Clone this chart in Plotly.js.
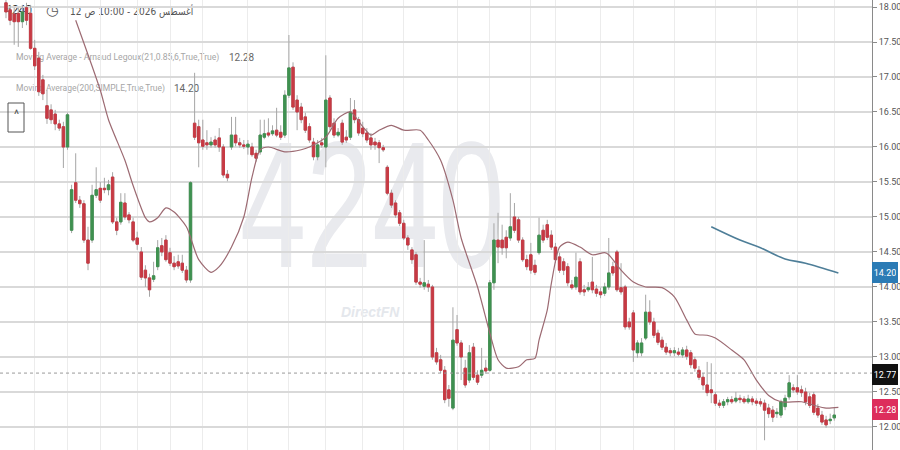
<!DOCTYPE html>
<html><head><meta charset="utf-8">
<script src="https://cdn.plot.ly/plotly-3.0.1.min.js"></script>
<style>html,body{margin:0;padding:0;background:#fff}#chart{width:900px;height:450px}</style>
</head><body><div id="chart"></div><script>
// ---- data ----
const openP = [18.06,17.96,17.90,17.91,17.79,17.99,17.91,17.41,17.27,16.96,16.59,16.53,16.47,16.33,16.29,16.00,14.81,15.49,15.24,15.19,14.67,14.67,15.31,15.41,15.41,15.39,15.57,14.93,14.93,15.20,15.03,14.93,14.70,14.50,14.24,14.13,14.11,14.29,14.59,14.67,14.49,14.34,14.36,14.34,14.24,14.10,16.34,16.29,16.10,16.06,16.03,16.10,16.13,16.00,15.61,16.00,16.17,16.06,16.03,16.00,16.00,15.91,15.93,16.14,16.20,16.19,16.24,16.21,16.17,16.74,17.14,16.67,16.57,16.43,16.29,16.07,15.86,16.06,16.00,16.70,16.34,16.17,16.34,16.14,16.14,16.53,16.39,16.27,16.20,16.13,16.07,16.06,15.99,15.71,15.34,15.20,15.06,14.91,14.70,14.53,14.46,14.07,14.01,14.04,14.00,13.06,12.96,12.81,12.53,12.27,13.39,13.20,12.84,12.67,13.14,12.74,12.74,12.84,12.81,14.06,14.67,14.67,14.71,14.70,15.00,14.96,14.67,14.39,14.46,14.31,14.49,14.81,14.89,14.74,14.57,14.43,14.36,14.29,14.03,14.00,14.36,13.96,13.96,14.07,13.97,13.93,13.91,14.00,14.29,14.50,13.99,14.00,13.50,13.63,13.06,13.06,13.27,13.64,13.50,13.34,13.24,13.14,13.09,13.06,13.07,13.03,13.10,13.06,12.96,12.81,12.71,12.60,12.53,12.46,12.34,12.31,12.36,12.39,12.37,12.41,12.40,12.36,12.40,12.37,12.36,12.34,12.27,12.24,12.19,12.17,12.29,12.43,12.56,12.56,12.53,12.50,12.43,12.46,12.27,12.17,12.10,12.09,12.13];
const highP = [18.10,18.03,17.99,17.99,18.03,18.06,18.03,17.53,17.36,17.03,16.81,16.61,16.53,16.39,16.36,16.49,15.46,15.91,15.30,15.24,14.86,15.46,15.71,15.50,15.56,15.53,15.64,14.99,15.34,15.34,15.07,14.99,14.79,14.57,14.31,14.19,14.36,14.67,14.70,14.74,14.56,14.44,14.46,14.46,14.30,15.51,17.06,16.39,16.39,16.24,16.14,16.16,16.27,16.04,15.67,16.43,16.43,16.13,16.10,16.10,16.06,15.96,16.39,16.39,16.41,16.31,16.56,16.31,16.81,17.60,17.21,16.74,16.63,16.49,16.34,16.13,16.10,16.13,17.31,16.74,16.41,16.27,16.39,16.24,16.70,16.67,16.43,16.36,16.27,16.20,16.13,16.10,16.03,15.74,15.39,15.24,15.10,14.96,14.74,14.57,14.50,14.13,14.67,14.10,14.03,13.13,13.03,12.87,12.60,13.71,13.60,13.24,12.96,13.17,13.20,12.81,13.13,12.96,14.10,14.91,15.06,14.89,14.81,15.34,15.20,15.00,14.71,14.46,14.63,14.39,14.99,14.89,14.96,14.81,14.63,14.49,14.41,14.34,14.10,14.49,14.41,14.03,14.07,14.43,14.03,13.99,14.06,14.70,14.36,14.53,14.34,14.03,13.56,13.67,13.24,13.27,13.89,13.81,13.56,13.39,13.29,13.20,13.13,13.14,13.13,13.14,13.16,13.10,13.00,12.87,12.77,12.93,12.91,12.50,12.39,12.40,12.43,12.44,12.50,12.46,12.44,12.46,12.44,12.41,12.41,12.39,12.33,12.30,12.27,12.39,12.46,12.74,12.61,12.74,12.59,12.56,12.49,12.50,12.33,12.23,12.16,12.19,12.27];
const lowP = [17.84,17.74,17.46,17.43,17.70,17.74,17.39,17.10,16.73,16.67,16.33,16.33,16.24,16.23,15.70,15.96,14.77,15.20,15.13,14.63,14.24,14.63,15.27,15.20,15.34,15.31,14.90,14.74,14.89,14.96,14.91,14.64,14.53,14.10,14.00,13.86,14.07,14.24,14.44,14.36,14.30,14.24,14.26,14.20,14.06,14.06,16.10,15.71,15.96,15.96,15.99,15.99,15.93,15.56,15.51,15.96,16.01,15.99,15.97,15.89,15.86,15.79,15.89,16.11,16.14,16.16,16.14,16.10,16.13,16.70,16.53,16.24,16.34,16.20,16.06,15.81,15.81,15.99,15.71,16.24,16.13,16.14,16.03,16.06,16.10,16.34,16.16,16.14,16.06,15.96,15.96,15.77,15.93,15.31,15.13,14.99,14.87,14.67,14.53,14.33,14.03,13.99,13.96,13.93,12.96,12.89,12.77,12.34,12.29,12.24,13.16,12.67,12.56,12.63,12.67,12.60,12.70,12.76,12.79,13.96,14.34,14.46,14.41,14.66,14.77,14.63,14.36,14.24,14.19,14.17,14.46,14.63,14.67,14.53,14.34,14.20,14.17,14.01,13.96,13.96,13.89,13.87,13.93,13.91,13.86,13.84,13.87,13.96,14.16,13.93,13.89,13.39,13.39,12.93,12.99,13.01,13.24,13.46,13.27,13.17,13.10,13.03,13.01,13.01,13.01,12.99,12.96,12.84,12.79,12.67,12.53,12.44,12.34,12.30,12.27,12.27,12.31,12.33,12.34,12.34,12.33,12.33,12.31,12.30,12.29,11.81,12.13,12.07,12.13,12.13,12.24,12.39,12.49,12.46,12.43,12.31,12.27,12.17,12.13,12.03,11.99,12.04,12.09];
const closeP = [17.93,17.81,17.79,17.79,17.93,17.81,17.41,17.16,16.79,16.76,16.41,16.39,16.33,16.27,16.00,16.46,15.39,15.24,15.19,14.67,14.34,15.31,15.39,15.24,15.39,15.46,14.93,14.81,15.21,15.00,14.96,14.67,14.61,14.14,14.13,13.96,14.16,14.56,14.50,14.39,14.34,14.29,14.30,14.24,14.10,15.49,16.14,16.06,16.01,16.03,16.07,16.03,16.00,15.60,15.56,16.17,16.06,16.03,16.01,16.04,15.89,15.84,16.17,16.19,16.17,16.23,16.17,16.14,16.74,17.13,16.57,16.50,16.39,16.24,16.10,15.86,16.03,16.03,16.67,16.29,16.17,16.21,16.07,16.10,16.50,16.39,16.20,16.19,16.10,16.03,16.03,15.99,15.96,15.34,15.17,15.03,14.91,14.70,14.60,14.39,14.07,14.04,14.06,14.00,13.00,12.93,12.81,12.39,12.41,13.24,13.20,13.00,12.60,13.06,12.71,12.64,12.81,12.80,14.06,14.67,14.57,14.56,14.56,14.86,14.81,14.67,14.39,14.29,14.24,14.21,14.74,14.67,14.71,14.57,14.39,14.24,14.24,14.06,13.99,14.14,13.93,13.93,13.99,13.96,13.91,13.89,14.00,14.20,14.20,13.96,13.93,13.43,13.43,13.10,13.20,13.20,13.64,13.50,13.31,13.21,13.14,13.07,13.06,13.09,13.04,13.10,13.01,12.89,12.84,12.71,12.60,12.49,12.49,12.34,12.31,12.36,12.39,12.36,12.41,12.39,12.36,12.40,12.36,12.34,12.33,12.24,12.19,12.14,12.21,12.36,12.41,12.63,12.53,12.50,12.49,12.36,12.31,12.21,12.17,12.07,12.03,12.11,12.17];

const almaIdx = [17,23,25,29,31,34,35,37,39,41,44,47,50,52,55,58,60,62,64,68,72,74,78,81,84,87,89,91,94,97,101,103,106,109,111,115,118,120,122,125,127,129,130,132,133,135,137,140,143,146,147,150,153,156,160,163,166,168,171,173,177,180,183,186,189,194,197,200,203];
const almaVal = [17.81,16.81,16.39,15.81,15.45,14.99,14.93,14.99,15.13,15.07,14.86,14.39,14.21,14.29,14.57,15.00,15.57,15.96,16.00,15.93,15.96,16.00,16.14,16.41,16.50,16.29,16.17,16.24,16.31,16.24,16.24,16.10,15.81,15.24,14.70,14.00,13.34,12.96,12.84,12.86,12.96,12.98,13.24,13.67,14.05,14.57,14.64,14.57,14.46,14.49,14.46,14.24,14.07,14.00,13.99,13.86,13.53,13.33,13.31,13.27,13.10,12.96,12.67,12.45,12.36,12.36,12.31,12.27,12.28];
const smaIdx = [172,179,184,190,195,203];
const smaVal = [14.86,14.67,14.56,14.40,14.34,14.20];

const yTicks = [12,12.5,13,13.5,14,14.5,15,15.5,16,16.5,17,17.5,18];
const xGrid = [7,15,23,32,40,48,59,69,78,87,97,110,118,128,134,145,153,163,173,183,193,202];
const lastAlma = 12.28, lastSma = 14.20, refLine = 12.77;
const symbol = '4240';
const dateText = '\u202Bأغسطس 2026 - 10:00 ص 12\u202C';
const almaName = 'Moving Average - Arnaud Legoux(21,0.85,6,True,True)';
const smaName = 'Moving Average(200,SIMPLE,True,True)';

// ---- build ----
const N = closeP.length;
const idx = Array.from({length: N}, (_, i) => i);
const bodyTop = idx.map(i => Math.max(openP[i], closeP[i]));
const bodyBot = idx.map(i => Math.min(openP[i], closeP[i]));
const UP = '#3f9150', DOWN = '#c73a44', WICK = '#a6a6a6';

const traces = [
  {type:'candlestick', x:idx, open:openP, high:highP, low:lowP, close:closeP,
   increasing:{line:{color:WICK, width:1}, fillcolor:'rgba(0,0,0,0)'},
   decreasing:{line:{color:WICK, width:1}, fillcolor:'rgba(0,0,0,0)'},
   whiskerwidth:0, showlegend:false, hoverinfo:'skip'},
  {type:'candlestick', x:idx, open:openP, high:bodyTop, low:bodyBot, close:closeP,
   increasing:{line:{color:UP, width:1}, fillcolor:UP},
   decreasing:{line:{color:DOWN, width:1}, fillcolor:DOWN},
   whiskerwidth:0, showlegend:false},
  {type:'scatter', mode:'lines', x:almaIdx, y:almaVal, line:{color:'#9c6a72', width:1.2, shape:'spline', smoothing:0.7}, showlegend:false},
  {type:'scatter', mode:'lines', x:smaIdx, y:smaVal, line:{color:'#4e7e98', width:1.6, shape:'spline'}, showlegend:false}
];

const W = 872, H = 450;
const px = v => v / W, py = v => 1 - v / H;

const annotations = [
  {text:symbol, xref:'paper', yref:'paper', x:px(372), y:py(205), xanchor:'center', yanchor:'middle', showarrow:false,
   font:{family:'Liberation Sans, Arial, sans-serif', size:180, color:'#e9eaee'}},
  {text:'DirectFN', xref:'paper', yref:'paper', x:px(370), y:py(312), xanchor:'center', yanchor:'middle', showarrow:false,
   font:{family:'Liberation Sans, Arial, sans-serif', size:14, color:'#e4e7ec', weight:'bold', style:'italic'}},
  {text:symbol, xref:'paper', yref:'paper', x:px(3), y:py(10), xanchor:'left', yanchor:'middle', showarrow:false,
   font:{family:'Roboto, sans-serif', size:12, color:'#333'}},
  {text:'◷', xref:'paper', yref:'paper', x:px(52), y:py(10), xanchor:'center', yanchor:'middle', showarrow:false,
   font:{family:'DejaVu Sans, sans-serif', size:14, color:'#555'}},
  {text:dateText, xref:'paper', yref:'paper', x:px(68), y:py(11), xanchor:'left', yanchor:'middle', showarrow:false,
   font:{family:'DejaVu Sans, sans-serif', size:10.5, color:'#555'}},
  {text:almaName, xref:'paper', yref:'paper', x:px(14), y:py(57), xanchor:'left', yanchor:'middle', showarrow:false,
   font:{family:'Roboto, sans-serif', size:8.6, color:'#a6a6a6'}},
  {text:lastAlma.toFixed(2), xref:'paper', yref:'paper', x:px(227), y:py(57), xanchor:'left', yanchor:'middle', showarrow:false,
   font:{family:'Roboto, sans-serif', size:10, color:'#666'}},
  {text:smaName, xref:'paper', yref:'paper', x:px(14), y:py(88), xanchor:'left', yanchor:'middle', showarrow:false,
   font:{family:'Roboto, sans-serif', size:8.5, color:'#a6a6a6'}},
  {text:lastSma.toFixed(2), xref:'paper', yref:'paper', x:px(172), y:py(88), xanchor:'left', yanchor:'middle', showarrow:false,
   font:{family:'Roboto, sans-serif', size:10, color:'#666'}},
  {text:'^', xref:'paper', yref:'paper', x:px(16), y:py(115), xanchor:'center', yanchor:'middle', showarrow:false,
   font:{family:'Roboto, sans-serif', size:12, color:'#555'}},
  {text:lastSma.toFixed(2), xref:'paper', yref:'y', x:1, y:lastSma, xanchor:'left', yanchor:'middle', showarrow:false,
   bgcolor:'#2b7bb5', borderpad:1, borderwidth:1, bordercolor:'#2b7bb5', width:22, height:17,
   font:{family:'Roboto, sans-serif', size:9, color:'#fff'}},
  {text:refLine.toFixed(2), xref:'paper', yref:'y', x:1, y:refLine, xanchor:'left', yanchor:'middle', showarrow:false, yshift:-1,
   bgcolor:'#111', borderpad:1, borderwidth:1, bordercolor:'#111', width:22, height:17,
   font:{family:'Roboto, sans-serif', size:9, color:'#fff'}},
  {text:lastAlma.toFixed(2), xref:'paper', yref:'y', x:1, y:lastAlma, xanchor:'left', yanchor:'middle', showarrow:false, yshift:-2,
   bgcolor:'#dd2d5c', borderpad:1, borderwidth:1, bordercolor:'#dd2d5c', width:22, height:17,
   font:{family:'Roboto, sans-serif', size:9, color:'#fff'}}
];
const belowAnn = [0,1,2,3,4,5,6,7,8];
const squeeze = {0:0.66, 4:0.86};

const layout = {
  width:900, height:450, margin:{l:0, r:28, t:0, b:0},
  paper_bgcolor:'#ffffff', plot_bgcolor:'rgba(0,0,0,0)', showlegend:false,
  boxmode:'overlay', boxgap:0.42, boxgroupgap:0,
  xaxis:{range:[-1.46, 211.2], tickvals:xGrid, showticklabels:false, ticks:'', showgrid:true,
         gridcolor:'#ececec', gridwidth:1, zeroline:false, rangeslider:{visible:false}, showline:false},
  yaxis:{side:'right', range:[11.671, 18.1], tickvals:yTicks, ticktext:yTicks.map(v => v.toFixed(2)),
         showgrid:true, gridcolor:'#d9d9d9', gridwidth:1.6, showline:true, linecolor:'#8a8a8a', linewidth:1,
         ticks:'outside', ticklen:4, tickcolor:'#8a8a8a', zeroline:false,
         tickfont:{family:'Roboto, sans-serif', size:9, color:'#555'}},
  shapes:[
    {type:'line', xref:'paper', x0:0, x1:1, yref:'y', y0:refLine, y1:refLine, line:{color:'#999', width:1, dash:'3px,3px'}},
    {type:'rect', xref:'paper', yref:'paper', x0:px(8), x1:px(24), y0:py(132), y1:py(103), line:{color:'#555', width:1}, fillcolor:'rgba(0,0,0,0)'}
  ],
  annotations:annotations
};

Plotly.newPlot('chart', traces, layout, {staticPlot:true, displayModeBar:false}).then(function(gd){
  const cart = gd.querySelector('.cartesianlayer');
  const anns = Array.from(gd.querySelectorAll('.annotation'));
  anns.forEach(function(a){
    const i = +a.getAttribute('data-index');
    if (squeeze[i]) {
      const t = a.querySelector('text');
      if (t) {
        const b = t.getBBox();
        const sx = squeeze[i];
        const ax = (i === 0) ? b.x + b.width / 2 : b.x;
        const ex = t.getAttribute('transform') || '';
        t.setAttribute('transform', ex + ' translate(' + ax + ',0) scale(' + sx + ',1) translate(' + (-ax) + ',0)');
      }
    }
    if (belowAnn.indexOf(i) >= 0 && cart) cart.parentNode.insertBefore(a, cart);
  });
});
</script></body></html>
